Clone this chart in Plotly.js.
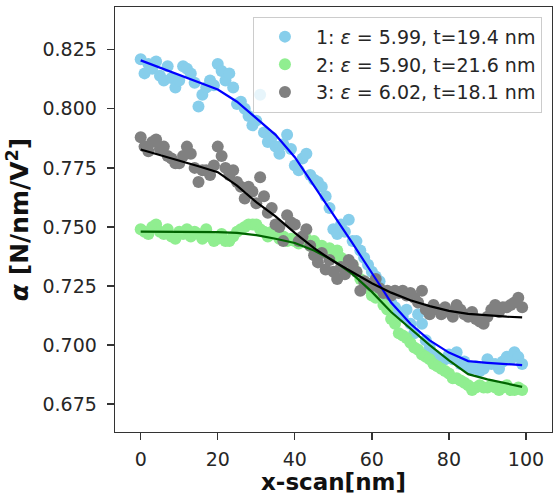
<!DOCTYPE html>
<html>
<head>
<meta charset="utf-8">
<script src="https://cdn.plot.ly/plotly-3.0.1.min.js"></script>
<style>html,body{margin:0;padding:0;background:#fff;}#chart{width:560px;height:495px;}</style>
</head>
<body>
<div id="chart"></div>
<script>
// x positions of the scan (nm)
const xScan = [0,1,2,3,4,5,6,7,8,9,10,11,12,13,14,15,16,17,18,19,20,21,22,23,24,25,26,27,28,29,
  30,31,32,33,34,35,36,37,38,39,40,41,42,43,44,45,46,47,48,49,50,51,52,53,54,55,56,57,58,59,
  60,61,62,63,64,65,66,67,68,69,70,71,72,73,74,75,76,77,78,79,80,81,82,83,84,85,86,87,88,89,
  90,91,92,93,94,95,96,97,98,99];

// Series 1 (skyblue points)
const s1 = [0.821,0.815,0.819,0.817,0.820,0.814,0.812,0.818,0.813,0.809,
  0.812,0.818,0.817,0.815,0.811,0.801,0.806,0.809,0.812,0.810,
  0.819,0.816,0.812,0.815,0.809,0.802,0.803,0.800,0.797,0.793,
  0.795,0.806,0.790,0.786,0.788,0.784,0.781,0.785,0.789,0.783,
  0.776,0.774,0.779,0.781,0.772,0.770,0.769,0.767,0.763,0.758,
  0.749,0.747,0.751,0.748,0.753,0.744,0.744,0.740,0.737,0.734,
  0.731,0.729,0.727,0.722,0.720,0.718,0.716,0.714,0.712,0.715,
  0.709,0.705,0.713,0.709,0.702,0.699,0.696,0.694,0.693,0.694,
  0.696,0.694,0.697,0.692,0.693,0.691,0.690,0.691,0.689,0.690,
  0.694,0.692,0.692,0.690,0.693,0.695,0.694,0.697,0.695,0.692];

// Series 2 (lightgreen points)
const s2 = [0.749,0.748,0.747,0.750,0.751,0.748,0.747,0.749,0.746,0.745,
  0.748,0.747,0.749,0.746,0.748,0.747,0.745,0.749,0.746,0.744,
  0.745,0.747,0.744,0.744,0.746,0.748,0.749,0.750,0.751,0.751,
  0.751,0.749,0.748,0.746,0.748,0.747,0.745,0.746,0.744,0.745,
  0.744,0.743,0.744,0.745,0.742,0.744,0.741,0.742,0.740,0.741,
  0.739,0.740,0.737,0.735,0.733,0.734,0.731,0.728,0.727,0.724,
  0.721,0.720,0.722,0.717,0.715,0.711,0.709,0.705,0.704,0.703,
  0.701,0.699,0.698,0.696,0.695,0.694,0.692,0.691,0.690,0.689,
  0.688,0.686,0.686,0.685,0.684,0.683,0.681,0.682,0.683,0.682,
  0.682,0.683,0.682,0.681,0.682,0.683,0.681,0.681,0.682,0.681];

// Series 3 (gray points)
const s3 = [0.788,0.784,0.782,0.786,0.787,0.783,0.784,0.780,0.779,0.777,
  0.777,0.780,0.784,0.781,0.775,0.769,0.774,0.774,0.772,0.776,
  0.784,0.780,0.775,0.772,0.774,0.769,0.767,0.762,0.767,0.765,
  0.760,0.771,0.763,0.756,0.758,0.751,0.750,0.744,0.755,0.752,
  0.751,0.744,0.746,0.749,0.742,0.738,0.735,0.739,0.732,0.736,
  0.731,0.728,0.733,0.730,0.736,0.734,0.731,0.723,0.727,0.726,
  0.725,0.728,0.724,0.722,0.723,0.721,0.723,0.722,0.723,0.721,
  0.722,0.720,0.718,0.723,0.715,0.713,0.717,0.715,0.713,0.716,
  0.714,0.712,0.717,0.715,0.713,0.712,0.714,0.711,0.710,0.709,
  0.712,0.715,0.717,0.714,0.716,0.716,0.717,0.718,0.720,0.716];

// Fitted curves
const fitX = [0,5,10,15,20,25,30,35,40,45,50,55,60,65,70,75,80,85,90,95,99];
const fit1 = [0.8205,0.8175,0.8145,0.8113,0.8082,0.8030,0.7962,0.7890,0.7795,0.7675,0.7555,0.7430,0.7305,0.7180,0.7090,0.7020,0.6968,0.6932,0.6925,0.6920,0.6915];
const fit2 = [0.7480,0.7480,0.7480,0.7480,0.7478,0.7475,0.7465,0.7450,0.7432,0.7400,0.7358,0.7300,0.7225,0.7140,0.7070,0.7000,0.6935,0.6877,0.6855,0.6838,0.6823];
const fit3 = [0.7828,0.7805,0.7780,0.7757,0.7732,0.7675,0.7605,0.7545,0.7475,0.7410,0.7355,0.7310,0.7262,0.7222,0.7190,0.7165,0.7145,0.7132,0.7125,0.7120,0.7117];

const labels = ["1: <i>ε</i> = 5.99, t=19.4 nm", "2: <i>ε</i> = 5.90, t=21.6 nm", "3: <i>ε</i> = 6.02, t=18.1 nm"];
const xTicks = [0,20,40,60,80,100];
const yTicks = [0.675,0.700,0.725,0.750,0.775,0.800,0.825];

const pts = (y, c, name) => ({x: xScan, y: y, type: 'scatter', mode: 'markers', name: name,
  marker: {color: c, size: 12, line: {width: 0}}});
const fit = (y, c, name) => ({x: fitX, y: y, type: 'scatter', mode: 'lines', name: name, showlegend: false,
  line: {color: c, width: 2.2}, hoverinfo: 'skip'});

const data = [
  pts(s1, '#87CEEB', labels[0]),
  pts(s2, '#90EE90', labels[1]),
  pts(s3, '#808080', labels[2]),
  fit(fit1, '#0000FF', 'fit 1'),
  fit(fit2, '#006400', 'fit 2'),
  fit(fit3, '#000000', 'fit 3')
];

const axisCommon = {
  showline: true, mirror: true, linecolor: '#333', linewidth: 1.3,
  ticks: 'outside', ticklen: 7, tickwidth: 1.3, tickcolor: '#333',
  showgrid: false, zeroline: false,
  tickfont: {family: 'DejaVu Sans', size: 19, color: '#262626'}
};

const layout = {
  width: 560, height: 495,
  margin: {l: 115, r: 8, t: 7, b: 63},
  paper_bgcolor: '#fff', plot_bgcolor: '#fff',
  showlegend: true,
  legend: {x: 0.977, y: 0.977, xanchor: 'right', yanchor: 'top', itemwidth: 52,
    bgcolor: 'rgba(255,255,255,0.8)', bordercolor: '#cccccc', borderwidth: 1,
    font: {family: 'DejaVu Sans', size: 19, color: '#262626'}},
  xaxis: Object.assign({}, axisCommon, {
    range: [-6.67, 106.75], tickmode: 'array', tickvals: xTicks,
    ticktext: xTicks.map(String), ticklabelstandoff: 3,
    title: {text: '<b>x-scan[nm]</b>', font: {family: 'DejaVu Sans', size: 23, color: '#111'}, standoff: 3}
  }),
  yaxis: Object.assign({}, axisCommon, {
    range: [0.6632, 0.8431], tickmode: 'array', tickvals: yTicks,
    ticktext: yTicks.map(v => v.toFixed(3)), ticklabelstandoff: 6,
    title: {text: '<b><i>α</i> [N/nm/V<sup>2</sup>]</b>', font: {family: 'DejaVu Sans', size: 25, color: '#111'}, standoff: 6}
  })
};

Plotly.newPlot('chart', data, layout, {staticPlot: true, displayModeBar: false});
</script>
</body>
</html>
